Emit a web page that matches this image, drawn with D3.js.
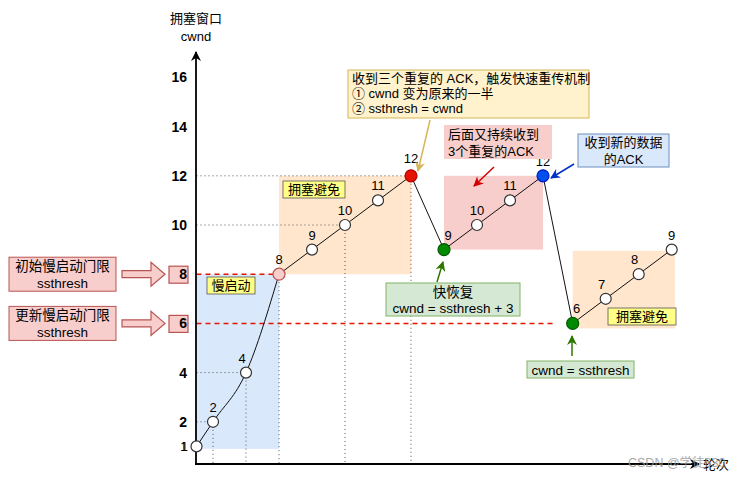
<!DOCTYPE html>
<html>
<head>
<meta charset="utf-8">
<script src="https://cdn.jsdelivr.net/npm/d3@7"></script>
<style>
  body { margin: 0; background: #fff; }
  text { font-family: Helvetica, Arial, "Liberation Sans", "Noto Sans CJK SC", sans-serif; }
</style>
</head>
<body>
<div id="chart"></div>
<script>
// rounds (x) and cwnd (y) of every point
const rounds = [0.5, 1, 2, 3, 4, 5, 6, 7, 8, 9, 10, 11, 11.9, 12.9, 13.9, 14.9];
const cwnd   = [1, 2, 4, 8, 9, 10, 11, 12, 9, 10, 11, 12, 6, 7, 8, 9];
const kinds  = ["n", "n", "n", "th", "n", "n", "n", "loss", "rec", "n", "n", "ack", "rec", "n", "n", "n"];
const yTicks = [1, 2, 4, 6, 8, 10, 12, 14, 16];

// shaded phases
const phaseNames = ["慢启动", "拥塞避免", "", "拥塞避免"];
const phaseFrom  = [0.5, 3, 8, 11.9];
const phaseTo    = [3, 7, 11, 15];
const phaseLow   = [0.9, 8, 9, 5.8];
const phaseHigh  = [8, 12, 12, 8.95];

// ssthresh values
const threshVals   = [8, 6];
const threshEnds   = [3, 11.3];
const threshLabels = ["初始慢启动门限", "更新慢启动门限"];

var width = 756, height = 478;

var svg = d3.select("#chart")
  .append("svg")
    .attr("width", width)
    .attr("height", height);

var x = d3.scaleLinear().domain([0.5, 16]).range([196.5, 708]);
var y = d3.scaleLinear().domain([0, 17]).range([471, 52.8]);

// markers
var defs = svg.append("defs");
function marker(id, color, w, h) {
  defs.append("marker")
    .attr("id", id)
    .attr("viewBox", "0 0 10 10")
    .attr("refX", 9).attr("refY", 5)
    .attr("markerUnits", "userSpaceOnUse")
    .attr("markerWidth", w).attr("markerHeight", h)
    .attr("orient", "auto")
    .append("path")
      .attr("d", "M0,0 L10,5 L0,10 L3,5 z")
      .attr("fill", color);
}
marker("axisArrow", "#000", 11, 10);
marker("goldArrow", "#d6b656", 11, 10);
marker("redArrow", "#d40000", 11, 10);
marker("blueArrow", "#0030c8", 11, 10);
marker("greenArrow", "#2d7600", 11, 10);

// phase regions
var phaseFill = ["#dae8fc", "#ffe6cc", "#f8cecc", "#ffe6cc"];
phaseFrom.forEach(function(d, i) {
  svg.append("rect")
    .attr("x", x(phaseFrom[i]))
    .attr("y", y(phaseHigh[i]))
    .attr("width", x(phaseTo[i]) - x(phaseFrom[i]))
    .attr("height", y(phaseLow[i]) - y(phaseHigh[i]))
    .attr("fill", phaseFill[i]);
});

// guide lines (dotted)
var guides = [1, 2, 5, 7];
var axisY = 464;
guides.forEach(function(i) {
  svg.append("line")
    .attr("x1", x(0.5)).attr("x2", x(rounds[i]))
    .attr("y1", y(cwnd[i])).attr("y2", y(cwnd[i]))
    .attr("stroke", "#555").attr("stroke-width", 1).attr("stroke-dasharray", "1,3");
});
[1, 2, 3, 5, 7].forEach(function(i) {
  svg.append("line")
    .attr("x1", x(rounds[i])).attr("x2", x(rounds[i]))
    .attr("y1", y(cwnd[i])).attr("y2", axisY)
    .attr("stroke", "#555").attr("stroke-width", 1).attr("stroke-dasharray", "1,3");
});

// red ssthresh lines
threshVals.forEach(function(v, i) {
  svg.append("line")
    .attr("x1", x(0.5)).attr("x2", x(threshEnds[i]))
    .attr("y1", y(v)).attr("y2", y(v))
    .attr("stroke", "#e51400").attr("stroke-width", 1.5).attr("stroke-dasharray", "5,4");
});

// phase labels
var phaseLabelPos = [[207, 277, 48], [283, 181, 62], null, [608, 308, 68]];
phaseNames.forEach(function(name, i) {
  if (!name) return;
  var p = phaseLabelPos[i];
  svg.append("rect")
    .attr("x", p[0]).attr("y", p[1]).attr("width", p[2]).attr("height", 17)
    .attr("fill", "#ffff88").attr("stroke", "#555").attr("stroke-width", 0.8);
  svg.append("text")
    .attr("x", p[0] + p[2] / 2).attr("y", p[1] + 13)
    .attr("text-anchor", "middle").attr("font-size", "13px")
    .text(name);
});

// axes
svg.append("line")
  .attr("x1", 196).attr("x2", 196).attr("y1", axisY).attr("y2", 52)
  .attr("stroke", "#000").attr("stroke-width", 1.8)
  .attr("marker-end", "url(#axisArrow)");
svg.append("line")
  .attr("x1", 195).attr("x2", 699).attr("y1", axisY).attr("y2", axisY)
  .attr("stroke", "#000").attr("stroke-width", 1.8)
  .attr("marker-end", "url(#axisArrow)");

var yAxis = svg.append("g")
  .attr("transform", "translate(196,0)")
  .call(d3.axisLeft(y).tickValues(yTicks).tickSize(0).tickPadding(9));
yAxis.select(".domain").remove();
yAxis.selectAll(".tick text")
  .attr("fill", "#000")
  .style("font-family", "Helvetica, Arial, sans-serif")
  .style("font-size", function(d) { return d === 1 ? "12px" : "14px"; })
  .style("font-weight", function(d) { return d === 1 ? "normal" : "bold"; });
yAxis.selectAll(".tick")
  .filter(function(d) { return threshVals.indexOf(d) >= 0; })
  .insert("rect", "text")
    .attr("x", -27).attr("y", -8.5).attr("width", 19).attr("height", 17)
    .attr("fill", "#f8cecc").attr("stroke", "#b85450").attr("stroke-width", 1.2);

svg.append("text").attr("x", 196).attr("y", 23).attr("text-anchor", "middle")
  .attr("font-size", "13px").text("拥塞窗口");
svg.append("text").attr("x", 196).attr("y", 41).attr("text-anchor", "middle")
  .attr("font-size", "13px").text("cwnd");
svg.append("text").attr("x", 703).attr("y", 469)
  .attr("font-size", "13px").text("轮次");

// cwnd line
var pts = rounds.map(function(r, i) { return [x(r), y(cwnd[i])]; });
svg.append("path")
  .attr("d", d3.line().curve(d3.curveMonotoneX)(pts.slice(0, 4)))
  .attr("fill", "none").attr("stroke", "#111").attr("stroke-width", 1);
svg.append("path")
  .attr("d", d3.line()(pts.slice(3)))
  .attr("fill", "none").attr("stroke", "#111").attr("stroke-width", 1);

// points
var fill = { n: "#fff", th: "#f8cecc", loss: "#e51400", rec: "#008a00", ack: "#0050ef" };
var stroke = { n: "#333", th: "#b85450", loss: "#b20000", rec: "#005700", ack: "#001dbc" };
svg.selectAll("circle.pt")
  .data(rounds)
  .enter()
  .append("circle")
    .attr("class", "pt")
    .attr("cx", function(d) { return x(d); })
    .attr("cy", function(d, i) { return y(cwnd[i]); })
    .attr("r", function(d, i) { return kinds[i] === "n" ? 5.5 : 6; })
    .attr("fill", function(d, i) { return fill[kinds[i]]; })
    .attr("stroke", function(d, i) { return stroke[kinds[i]]; })
    .attr("stroke-width", 1.2);

svg.selectAll("text.pl")
  .data(rounds)
  .enter()
  .append("text")
    .attr("class", "pl")
    .attr("x", function(d, i) {
      if (i === 0) return x(d) - 12;
      if (i === 8) return x(d) + 4;
      if (i === 12) return x(d) + 4;
      if (i === 2 || i === 13 || i === 14) return x(d) - 4;
      return x(d);
    })
    .attr("y", function(d, i) {
      if (i === 0) return y(cwnd[i]) + 5;
      if (i === 7) return y(cwnd[i]) - 13;
      return y(cwnd[i]) - 10;
    })
    .attr("text-anchor", "middle")
    .attr("font-size", function(d, i) { return i === 0 ? "12px" : "13px"; })
    .text(function(d, i) { return cwnd[i]; });

// annotation boxes
function box(x0, y0, w, h, f, s, lines, size, lh, anchor) {
  svg.append("rect")
    .attr("x", x0).attr("y", y0).attr("width", w).attr("height", h)
    .attr("fill", f).attr("stroke", s || "none").attr("stroke-width", 1);
  lines.forEach(function(t, i) {
    svg.append("text")
      .attr("x", anchor === "start" ? x0 + 4 : x0 + w / 2)
      .attr("y", y0 + lh * (i + 1) - (lh - size) / 2 - 1.5)
      .attr("text-anchor", anchor || "middle")
      .attr("font-size", size + "px")
      .text(t);
  });
}
function arrow(x1, y1, x2, y2, color, id) {
  svg.append("line")
    .attr("x1", x1).attr("y1", y1).attr("x2", x2).attr("y2", y2)
    .attr("stroke", color).attr("stroke-width", 1.5)
    .attr("marker-end", "url(#" + id + ")");
}

box(348, 70, 241, 48, "#fff2cc", "#d6b656",
    ["收到三个重复的 ACK，触发快速重传机制", "① cwnd 变为原来的一半", "② ssthresh = cwnd"], 13, 15, "start");
arrow(430, 120, 418, 171, "#d6b656", "goldArrow");

box(444, 125, 108, 34, "#f8cecc", null, ["后面又持续收到", "3个重复的ACK"], 13, 17, "start");
arrow(494, 167, 474, 186, "#d40000", "redArrow");

box(578, 134, 91, 33, "#dae8fc", "#6c8ebf", ["收到新的数据", "的ACK"], 13, 16.5);
arrow(574, 164, 551, 178, "#0030c8", "blueArrow");

box(386, 283, 134, 33, "#d5e8d4", "#82b366", ["快恢复", "cwnd = ssthresh + 3"], 13.5, 16.5);
arrow(437, 282, 443, 262, "#2d7600", "greenArrow");

box(527, 361, 107, 17, "#d5e8d4", "#82b366", ["cwnd = ssthresh"], 13.5, 17);
arrow(572, 356, 572, 336, "#2d7600", "greenArrow");

// left ssthresh callouts
threshVals.forEach(function(v, i) {
  var c = y(v);
  box(9, c - 17, 107, 34, "#f8cecc", "#b85450", [threshLabels[i], "ssthresh"], 13.5, 17);
  svg.append("polygon")
    .attr("points", [[122, c - 3.5], [151, c - 3.5], [151, c - 12], [165, c], [151, c + 12], [151, c + 3.5], [122, c + 3.5]].join(" "))
    .attr("fill", "#f8cecc").attr("stroke", "#b85450").attr("stroke-width", 1.2);
});

// watermark
svg.append("text").attr("x", 628).attr("y", 467)
  .attr("font-size", "12.5px").attr("fill", "#9a9a9a").attr("opacity", 0.85)
  .text("CSDN @学徒630");
</script>
</body>
</html>
